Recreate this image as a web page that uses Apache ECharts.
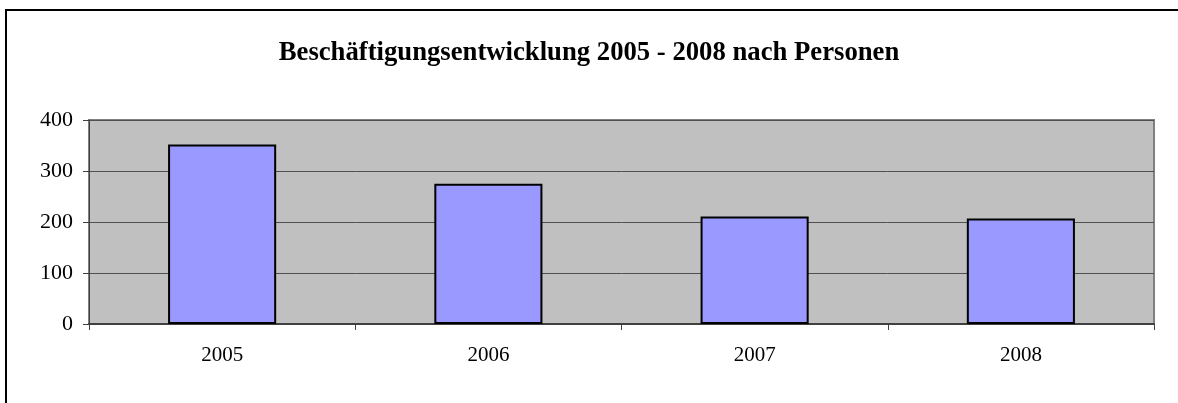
<!DOCTYPE html>
<html>
<head>
<meta charset="utf-8">
<script src="https://cdn.jsdelivr.net/npm/echarts@6/dist/echarts.min.js"></script>
<style>
  html, body { margin: 0; padding: 0; background: #fff; }
  #chart { width: 1178px; height: 403px; }
</style>
</head>
<body>
<div id="chart"></div>
<script>
// data
const years = ['2005', '2006', '2007', '2008'];
const persons = [352, 275, 211, 207];
const yTicks = [0, 100, 200, 300, 400];

const font = "'Liberation Serif', 'Times New Roman', serif";
const myChart = echarts.init(document.getElementById('chart'));

const option = {
  backgroundColor: '#ffffff',
  animation: false,
  title: {
    text: 'Beschäftigungsentwicklung 2005 - 2008 nach Personen',
    left: 'center',
    top: 35,
    textStyle: { fontFamily: font, fontSize: 26.7, fontWeight: 'bold', color: '#000' }
  },
  graphic: [
    {
      /* outer chart frame, only left and top are visible */
      type: 'polyline',
      shape: { points: [[6, 403], [6, 10], [1178, 10]] },
      style: { stroke: '#000', lineWidth: 2, fill: null },
      silent: true
    }
  ],
  grid: {
    left: 89, right: 24, top: 120, bottom: 79,
    show: true,
    backgroundColor: '#c0c0c0',
    borderColor: '#808080',
    borderWidth: 2
  },
  xAxis: {
    type: 'category',
    data: years,
    axisLine: { lineStyle: { color: '#404040', width: 2 } },
    axisTick: { show: true, length: 6, lineStyle: { color: '#404040' } },
    axisLabel: { fontFamily: font, fontSize: 21, color: '#000', margin: 21 }
  },
  yAxis: {
    type: 'value',
    min: yTicks[0],
    max: yTicks[yTicks.length - 1],
    interval: 100,
    axisLine: { show: true, lineStyle: { color: '#404040', width: 1 } },
    axisTick: { show: true, length: 6, lineStyle: { color: '#404040' } },
    axisLabel: { fontFamily: font, fontSize: 22, color: '#000', margin: 16 },
    splitLine: { show: true, lineStyle: { color: '#505050', width: 1 } }
  },
  series: [
    {
      type: 'bar',
      data: persons,
      barWidth: '40.6%',
      itemStyle: { color: '#9999ff', borderColor: '#000', borderWidth: 2 }
    }
  ]
};

myChart.setOption(option);
</script>
</body>
</html>
